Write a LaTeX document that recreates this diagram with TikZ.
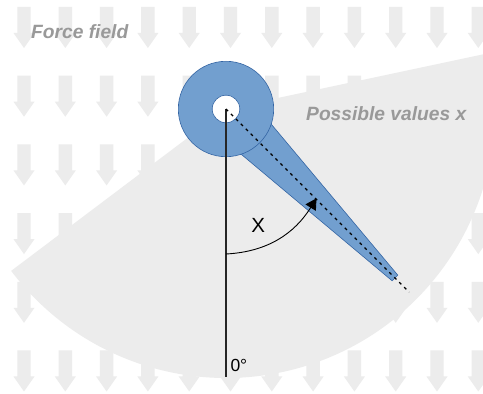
\documentclass[tikz,border=0pt]{standalone}
\usepackage{fontspec}
\setmainfont{Liberation Sans}
\usetikzlibrary{arrows.meta,calc}
\definecolor{fieldgray}{HTML}{ECECEC}
\definecolor{labelgray}{HTML}{999999}
\definecolor{armblue}{HTML}{729FCF}
\definecolor{armedge}{HTML}{3465A4}
\tikzset{
  fieldarrow/.pic={
    \fill[fieldgray] (-6.7,0) -- (6.7,0) -- (6.7,-26) -- (10.5,-26) -- (0,-41)
      -- (-10.5,-26) -- (-6.7,-26) -- cycle;
  },
  biglabel/.style={font=\fontsize{19.2}{21}\selectfont\bfseries\itshape, text=labelgray, inner sep=0pt}
}
\begin{document}
\begin{tikzpicture}[x=1pt, y=1pt]
  \useasboundingbox (0,0) rectangle (483,394);
  \fill[white] (0,0) rectangle (483,394);
  \foreach \i in {0,...,11}
    \foreach \j in {0,...,5}
      \pic at ({24+41.3*\i},{387-68.7*\j}) {fieldarrow};
  \coordinate (pivot) at (226,285);
  \coordinate (zero) at (226,17);
  \coordinate (tip) at ($(pivot)+(-45:259)$);
  \begin{scope}
    \clip (0,0) rectangle (483,394);
    \fill[fieldgray] (pivot) -- ++(12:269) arc[start angle=12, end angle=-143, radius=269] -- cycle;
  \end{scope}
  \begin{scope}[shift={(pivot)}, rotate=-45]
    \filldraw[fill=armblue, draw=armedge, line width=0.6pt] (0,25) -- (239,4) -- (239,-4) -- (0,-25) -- cycle;
  \end{scope}
  \filldraw[fill=armblue, draw=armedge, line width=0.6pt] (pivot) circle[radius=47.7];
  \filldraw[fill=white, draw=armedge, line width=0.6pt] (pivot) circle[radius=13.8];
  \draw[line width=1.1pt, black!85] (pivot) -- (zero);
  \draw[line width=1.3pt, dash pattern=on 3pt off 4pt] (pivot) -- (tip);
  \coordinate (arcstart) at (226,140);
  \coordinate (arcend) at (316.5,195.7);
  \draw[line width=0.9pt, -{Triangle[length=11pt, width=12pt]}] (arcstart) to[out=3, in=238] (arcend);
  \node[font=\fontsize{20.5}{22}\selectfont, inner sep=0pt] (xlabel) at (258.3,168.2) {X};
  \node[font=\fontsize{17.5}{19}\selectfont, inner sep=0pt, anchor=base west] (zerolabel) at (230.3,22.5) {0°};
  \node[biglabel, anchor=base west] (force) at (31,355.7) {Force field};
  \node[biglabel, anchor=base west] (values) at (306,273) {Possible values x};
\end{tikzpicture}
\end{document}
